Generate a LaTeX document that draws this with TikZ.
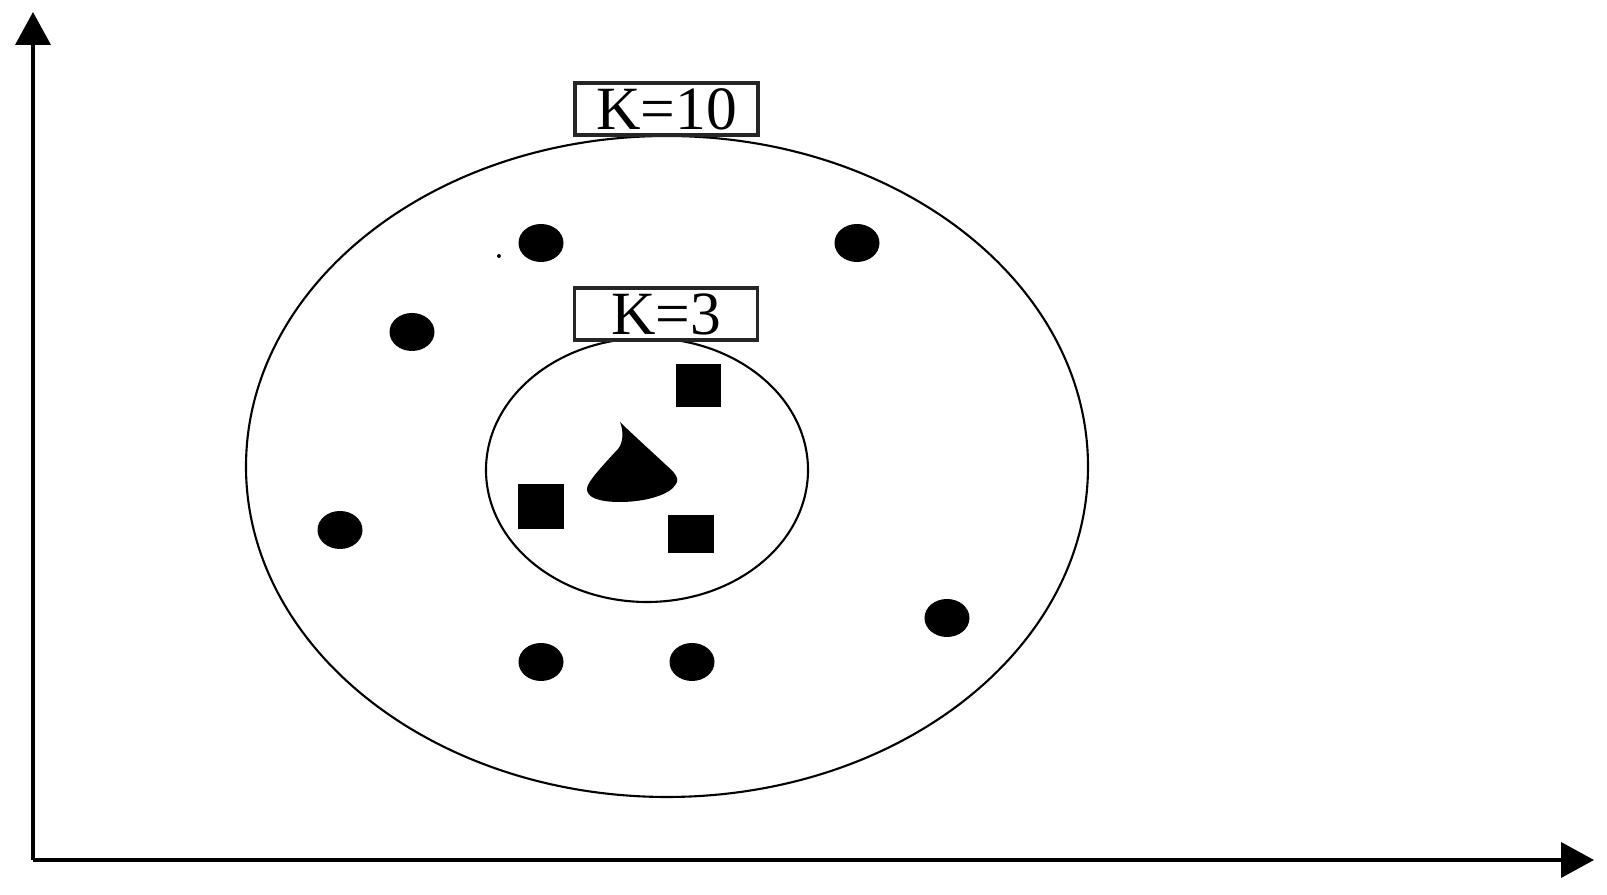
\documentclass[tikz,border=0pt]{standalone}
\usepackage{fontspec}
\setmainfont{Liberation Serif}
\usetikzlibrary{arrows.meta,shapes.geometric}

\tikzset{
	axis/.style={line width=1.1pt, -{Triangle[length=3.3mm, width=3.5mm]}},
	ring/.style={ellipse, draw, line width=0.6pt, inner sep=0pt},
	kbox/.style={draw=black!85, line width=1pt, fill=white, inner sep=0pt,
		minimum width=1.83cm, minimum height=0.52cm, font=\fontsize{17.5}{20}\selectfont},
	pt/.style={ellipse, fill=black, inner sep=0pt, minimum width=0.45cm, minimum height=0.38cm},
	sq/.style={rectangle, fill=black, inner sep=0pt}
}

\begin{document}
\begin{tikzpicture}
		\useasboundingbox (0,0) rectangle (16.07,8.95);
		% axes
		\coordinate (o) at (0.33,0.35);
		\coordinate (ytip) at (0.33,8.83);
		\coordinate (xtip) at (15.94,0.35);
		\draw[axis] (o) -- (ytip);
		\draw[axis] (o) -- (xtip);
		% neighbourhoods
		\node[ring, minimum width=8.42cm, minimum height=6.61cm](k10) at (6.67,4.285) {};
		\node[ring, minimum width=3.22cm, minimum height=2.64cm](k3) at (6.47,4.25) {};
		\node[kbox](k10lbl) at (6.665,7.86) {K=10};
		\node[kbox](k3lbl) at (6.66,5.81) {K=3};
		% class A
		\node[pt](a1) at (5.41,6.52) {};
		\node[pt](a2) at (8.57,6.52) {};
		\node[pt](a3) at (4.12,5.63) {};
		\node[pt](a4) at (3.40,3.65) {};
		\node[pt](a5) at (5.41,2.33) {};
		\node[pt](a6) at (6.92,2.33) {};
		\node[pt](a7) at (9.47,2.77) {};
		\fill (4.99,6.39) circle (0.02);
		% class B
		\node[sq, minimum width=0.45cm, minimum height=0.43cm](b1) at (6.985,5.095) {};
		\node[sq, minimum width=0.46cm, minimum height=0.45cm](b2) at (5.41,3.885) {};
		\node[sq, minimum width=0.46cm, minimum height=0.38cm](b3) at (6.91,3.61) {};
		% query
		\fill (6.20,4.73) .. controls (6.30,4.63) and (6.50,4.45) .. (6.66,4.30)
			.. controls (6.74,4.23) and (6.80,4.17) .. (6.76,4.11)
			.. controls (6.70,4.00) and (6.45,3.93) .. (6.20,3.93)
			.. controls (6.00,3.93) and (5.86,3.97) .. (5.87,4.07)
			.. controls (5.88,4.14) and (6.05,4.32) .. (6.18,4.46)
			.. controls (6.23,4.52) and (6.24,4.63) .. (6.20,4.73);
	\end{tikzpicture}
\end{document}
